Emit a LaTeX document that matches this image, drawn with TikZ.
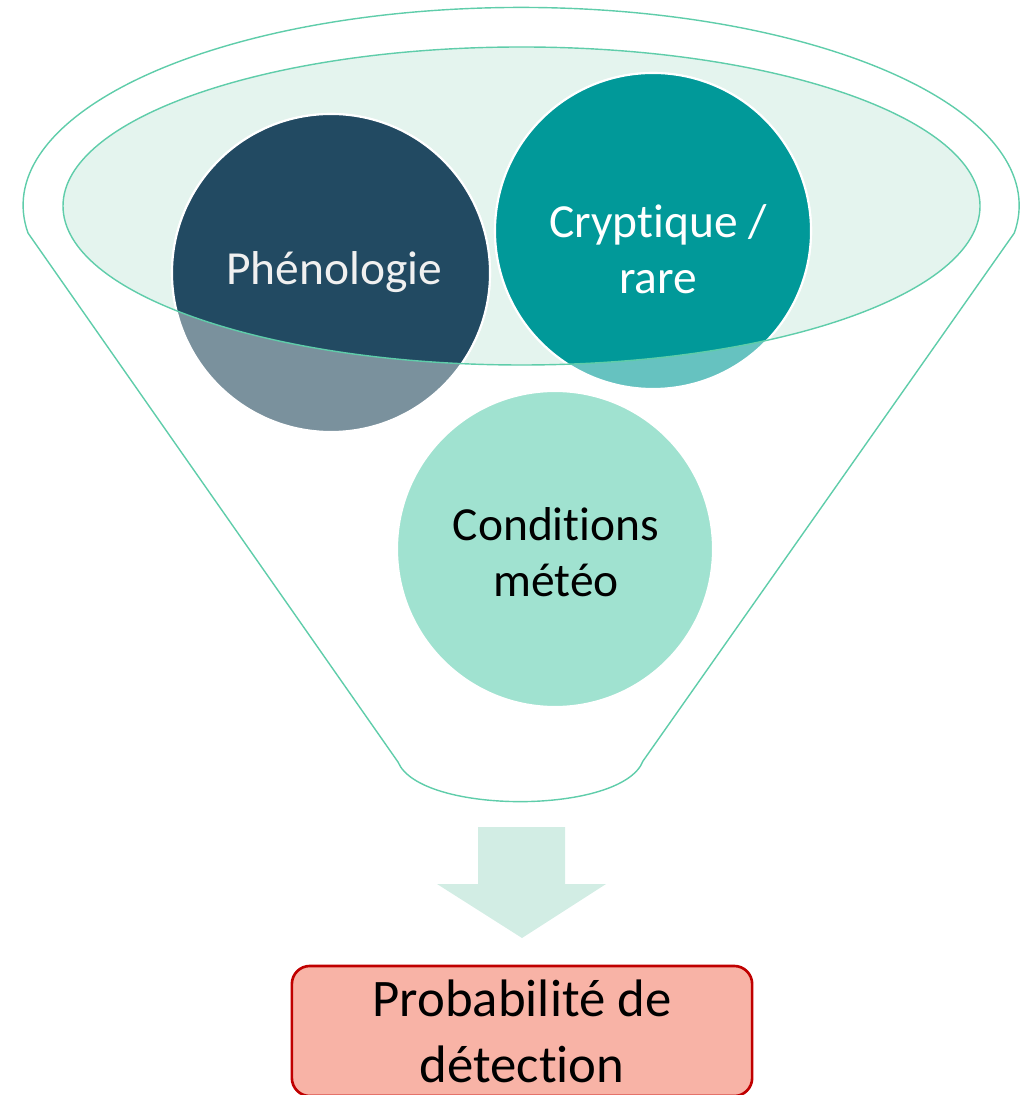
\documentclass[tikz,border=0pt]{standalone}
\usepackage{fontspec}
\setmainfont{Carlito}[Ligatures={NoCommon}]
\definecolor{funnel}{RGB}{95,205,170}
\definecolor{mouth}{RGB}{228,244,238}
\definecolor{phendark}{RGB}{34,74,98}
\definecolor{phenlight}{RGB}{122,145,157}
\definecolor{cryptdark}{RGB}{1,153,153}
\definecolor{cryptlight}{RGB}{102,194,192}
\definecolor{meteo}{RGB}{160,226,208}
\definecolor{flow}{RGB}{210,237,228}
\definecolor{resfill}{RGB}{248,179,166}
\definecolor{resline}{RGB}{192,0,0}

\begin{document}
\begin{tikzpicture}[x=0.01cm,y=-0.01cm,
    ring/.style={draw=white,line width=0.6pt},
    lbl/.style={align=center,inner sep=0pt,font=\fontsize{13.5}{16}\selectfont},
    result/.style={draw=resline,fill=resfill,line width=0.75pt,rounded corners=0.18cm,
      minimum width=4.6cm,minimum height=1.3cm,inner sep=0pt,align=center,
      font=\fontsize{15}{18.8}\selectfont}]
  \useasboundingbox (0,0) rectangle (1025,1095);

  \coordinate (P) at (331,273);
  \coordinate (C) at (653,231);
  \coordinate (M) at (555,549);

  % funnel body
  \draw[funnel,line width=0.4pt] (28,233)
    arc[start angle=172,end angle=368,x radius=498,y radius=198]
    -- (643,761) .. controls (622,815) and (420,815) .. (398,762) -- cycle;
  \fill[mouth] (521.5,206) ellipse[x radius=458.5,y radius=159];

  \filldraw[ring,fill=phenlight] (P) circle[radius=159];
  \filldraw[ring,fill=cryptlight] (C) circle[radius=158];
  \filldraw[ring,fill=meteo] (M) circle[radius=158];
  \begin{scope}
    \clip (521.5,206) ellipse[x radius=458.5,y radius=159];
    \filldraw[ring,fill=phendark] (P) circle[radius=159];
    \filldraw[ring,fill=cryptdark] (C) circle[radius=158];
  \end{scope}
  \draw[funnel,line width=0.4pt] (521.5,206) ellipse[x radius=458.5,y radius=159];

  \node[lbl,text=white!94!black] (phen) at (334,272) {Phénologie};
  \node[lbl,text=white] (crypt) at (658,249) {Cryptique /\\rare};
  \node[lbl] (cond) at (556,552) {Conditions\\météo};

  % output
  \fill[flow] (478,827) -- (565,827) -- (565,884) -- (606,884) -- (522,938)
    -- (437,884) -- (478,884) -- cycle;
  \node[result] (prob) at (522,1031) {Probabilité de\\détection};
\end{tikzpicture}
\end{document}
